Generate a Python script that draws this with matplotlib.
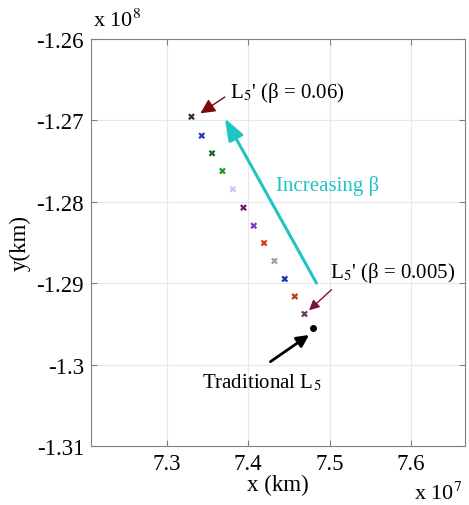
import matplotlib
matplotlib.use("Agg")
import matplotlib.pyplot as plt

plt.rcParams['font.family'] = ['Liberation Serif', 'DejaVu Serif']
plt.rcParams['mathtext.fontset'] = 'stix'

# L5' positions for increasing beta (x in 1e7 km, y in 1e8 km)
x_l5p = [7.3303, 7.3429, 7.3556, 7.3683, 7.3813, 7.3941,
         7.4067, 7.4194, 7.4321, 7.4448, 7.4571, 7.4690]
y_l5p = [-1.26955, -1.27188, -1.27404, -1.27622, -1.27846, -1.28072,
         -1.28294, -1.28506, -1.28727, -1.28948, -1.29163, -1.29378]
colors = ['#303030', '#2a3aa8', '#1d6b35', '#1f9a22', '#c9c8f5', '#6a1a6e',
          '#7a35d0', '#d2401e', '#a0a0a0', '#1f35a5', '#b0400f', '#6e3a6a']

# traditional L5
x_l5 = 7.4795
y_l5 = -1.29554

xticks = [7.3, 7.4, 7.5, 7.6]
yticks = [-1.26, -1.27, -1.28, -1.29, -1.30, -1.31]
ytick_labels = ['-1.26', '-1.27', '-1.28', '-1.29', '-1.3', '-1.31']

fig = plt.figure(figsize=(4.69, 5.06), dpi=100)
ax = fig.add_axes([0.194, 0.1166, 0.7975, 0.8044])

ax.scatter(x_l5p, y_l5p, c=colors, marker='x', s=14, linewidths=1.6, zorder=3)
ax.plot([x_l5], [y_l5], 'o', color='black', ms=4, zorder=3)

ax.set_xlim(7.207, 7.666)
ax.set_ylim(-1.31, -1.26)
ax.set_xticks(xticks)
ax.set_xticklabels(['7.3', '7.4', '7.5', '7.6'])
ax.set_yticks(yticks)
ax.set_yticklabels(ytick_labels)
ax.grid(True, color='#e8e8e8', lw=0.8)
ax.set_axisbelow(True)
ax.tick_params(direction='in', length=4, color='#808080', labelsize=16.5,
               top=True, right=True, pad=5)
for s in ax.spines.values():
    s.set_color('#808080')

ax.set_xlabel('x (km)', fontsize=16.5, labelpad=0)
ax.set_ylabel('y(km)', fontsize=16.5, labelpad=4)
fig.text(0.199, 0.948, r'x 10$^8$', fontsize=16, ha='left', va='baseline')
fig.text(0.985, 0.012, r'x 10$^7$', fontsize=16, ha='right', va='baseline')

# increasing beta arrow
ax.annotate('', xy=(7.3712, -1.26974), xytext=(7.4837, -1.28998),
            arrowprops=dict(arrowstyle='-|>,head_width=0.22,head_length=0.6',
                            color='#1fc4c4', lw=2.2,
                            mutation_scale=22, shrinkA=0, shrinkB=0))
ax.text(7.4975, -1.27794, 'Increasing β', color='#1fc4c4', fontsize=15,
        ha='center', va='center')

# beta = 0.06 label
ax.annotate('', xy=(7.3413, -1.26913), xytext=(7.3712, -1.26713),
            arrowprops=dict(arrowstyle='-|>', color='#7a0a0a', lw=1.0,
                            mutation_scale=22, shrinkA=0, shrinkB=0))
ax.text(7.3773, -1.26651, "L$_5$' (β = 0.06)", fontsize=15,
        ha='left', va='center')

# beta = 0.005 label
ax.annotate('', xy=(7.4746, -1.29333), xytext=(7.5021, -1.2908),
            arrowprops=dict(arrowstyle='-|>', color='#801040', lw=1.0,
                            mutation_scale=15, shrinkA=0, shrinkB=0))
ax.text(7.50, -1.28862, "L$_5$' (β = 0.005)", fontsize=15,
        ha='left', va='center')

# traditional L5 label
ax.annotate('', xy=(7.4746, -1.29636), xytext=(7.4272, -1.29964),
            arrowprops=dict(arrowstyle='-|>', color='black', lw=2.0,
                            mutation_scale=18, shrinkA=0, shrinkB=0))
ax.text(7.3429, -1.30214, 'Traditional L$_5$', fontsize=15,
        ha='left', va='center')

fig.savefig('out.png', dpi=100)
